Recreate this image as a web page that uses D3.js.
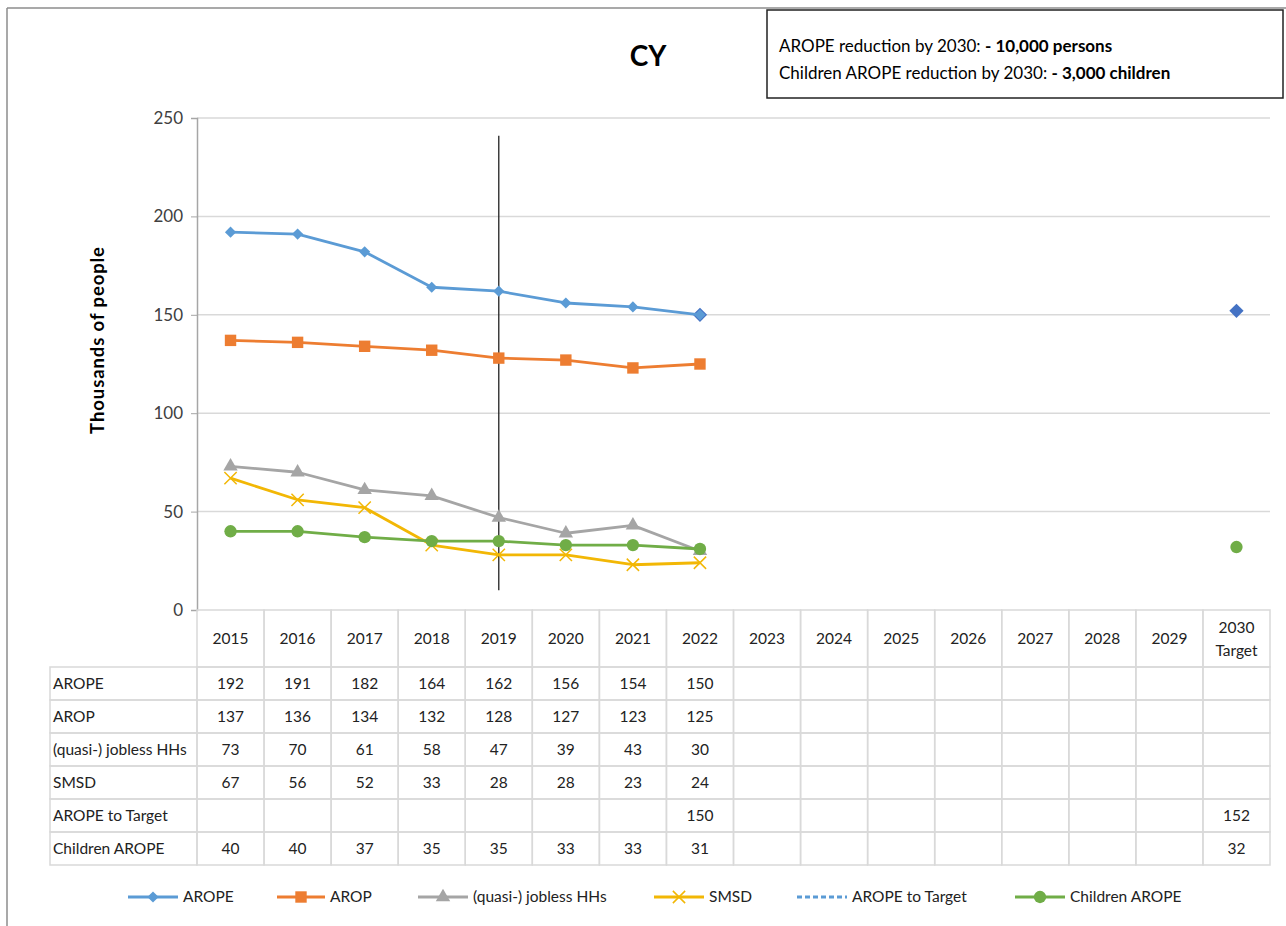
<!DOCTYPE html>
<html>
<head>
<meta charset="utf-8">
<script src="https://cdn.jsdelivr.net/npm/d3@7"></script>
<style>
  body { margin: 0; background: #fff; }
  svg { font-family: Lato, "Open Sans", sans-serif; }
</style>
</head>
<body>
<div id="chart"></div>
<script>
// categories and series
var years = ["2015","2016","2017","2018","2019","2020","2021","2022","2023","2024","2025","2026","2027","2028","2029","2030 Target"];
var arope    = [192,191,182,164,162,156,154,150,null,null,null,null,null,null,null,null];
var arop     = [137,136,134,132,128,127,123,125,null,null,null,null,null,null,null,null];
var jobless  = [73,70,61,58,47,39,43,30,null,null,null,null,null,null,null,null];
var smsd     = [67,56,52,33,28,28,23,24,null,null,null,null,null,null,null,null];
var toTarget = [null,null,null,null,null,null,null,150,null,null,null,null,null,null,null,152];
var children = [40,40,37,35,35,33,33,31,null,null,null,null,null,null,null,32];
var yTicks = [0,50,100,150,200,250];

var width = 1286, height = 926;

var svg = d3.select("#chart").append("svg")
  .attr("width", width)
  .attr("height", height);

// outer frame
svg.append("line").attr("x1", 7).attr("x2", 7).attr("y1", 8).attr("y2", height).attr("stroke", "#8c8c8c").attr("stroke-width", 1.5);
svg.append("line").attr("x1", 7).attr("x2", width).attr("y1", 8).attr("y2", 8).attr("stroke", "#8c8c8c").attr("stroke-width", 1.5);

var x = d3.scaleBand().domain(years).range([197, 1270]);
var y = d3.scaleLinear().domain([0, 250]).range([610, 118]);
var cx = function(i) { return x(years[i]) + x.bandwidth() / 2; };

// gridlines
svg.append("g").selectAll("line").data(yTicks.filter(function(d){ return d > 0; })).enter()
  .append("line")
  .attr("x1", 197).attr("x2", 1270)
  .attr("y1", function(d){ return y(d); }).attr("y2", function(d){ return y(d); })
  .attr("stroke", "#d9d9d9").attr("stroke-width", 1.5);

// y axis
var yAxis = svg.append("g").attr("transform", "translate(197,0)")
  .call(d3.axisLeft(y).tickValues(yTicks).tickSize(6).tickPadding(8));
yAxis.select(".domain").attr("stroke", "#a6a6a6").attr("stroke-width", 1.5);
yAxis.selectAll(".tick line").attr("stroke", "#a6a6a6");
yAxis.selectAll("text").attr("font-size", 17).attr("fill", "#404040").attr("font-family", "Lato, sans-serif");

svg.append("text")
  .attr("transform", "translate(104,340) rotate(-90)")
  .attr("text-anchor", "middle")
  .attr("font-size", 18.5).attr("font-weight", "bold").attr("letter-spacing", 0.9)
  .text("Thousands  of people");

// title
svg.append("text").attr("x", 648).attr("y", 66).attr("text-anchor", "middle")
  .attr("font-size", 28).attr("font-weight", "bold").text("CY");

// note box
svg.append("rect").attr("x", 767).attr("y", 10).attr("width", 516).attr("height", 88)
  .attr("fill", "#fff").attr("stroke", "#222").attr("stroke-width", 1.5);
var t1 = svg.append("text").attr("x", 779).attr("y", 52).attr("font-size", 17);
t1.append("tspan").text("AROPE reduction by 2030: ");
t1.append("tspan").attr("font-weight", "bold").text("- 10,000 persons");
var t2 = svg.append("text").attr("x", 779).attr("y", 79).attr("font-size", 17);
t2.append("tspan").text("Children AROPE reduction by 2030: ");
t2.append("tspan").attr("font-weight", "bold").text("- 3,000 children");

// 2019 marker line
svg.append("line")
  .attr("x1", cx(4)).attr("x2", cx(4))
  .attr("y1", y(241)).attr("y2", y(10))
  .attr("stroke", "#222").attr("stroke-width", 1.3);

var series = [
  { name: "AROPE", values: arope, color: "#5b9bd5", symbol: d3.symbolDiamond2, size: 80 },
  { name: "AROP", values: arop, color: "#ed7d31", symbol: d3.symbolSquare, size: 130 },
  { name: "(quasi-) jobless HHs", values: jobless, color: "#a5a5a5", symbol: d3.symbolTriangle, size: 90 },
  { name: "SMSD", values: smsd, color: "#f2b705", symbol: d3.symbolX, size: 100, open: true },
  { name: "AROPE to Target", values: toTarget, color: "#4472c4", symbol: d3.symbolDiamond2, size: 130, dash: "5,3", nolegendMarker: true },
  { name: "Children AROPE", values: children, color: "#70ad47", symbol: d3.symbolCircle, size: 120 }
];

function drawSymbol(g, s, px, py) {
  var p = g.append("path")
    .attr("d", d3.symbol().type(s.symbol).size(s.size)())
    .attr("transform", "translate(" + px + "," + py + ")");
  if (s.open) p.attr("fill", "none").attr("stroke", s.color).attr("stroke-width", 1.5);
  else p.attr("fill", s.color);
}

// draw target first so AROPE sits on top of it at 2022
var drawOrder = [4, 0, 1, 2, 3, 5];
drawOrder.forEach(function(k) {
  var s = series[k];
  var g = svg.append("g");
  // connect only consecutive points, like the source
  s.values.forEach(function(v, i){
    if (v != null && s.values[i+1] != null) {
      g.append("line")
        .attr("x1", cx(i)).attr("y1", y(v))
        .attr("x2", cx(i+1)).attr("y2", y(s.values[i+1]))
        .attr("stroke", s.color).attr("stroke-width", 2.8)
        .attr("stroke-dasharray", s.dash || null);
    }
  });
  s.values.forEach(function(v, i){
    if (v != null) drawSymbol(g, s, cx(i), y(v));
  });
});

// data table
var tableTop = 610, headH = 57, rowH = 33, tableLeft = 50;
var fs = 15.5;
var tbl = svg.append("g");
var gridC = "#d9d9d9";
// header
years.forEach(function(yr, i) {
  var x0 = x(yr);
  tbl.append("rect").attr("x", x0).attr("y", tableTop).attr("width", x.bandwidth()).attr("height", headH)
    .attr("fill", "none").attr("stroke", gridC).attr("stroke-width", 1.5);
  var parts = yr.split(" ");
  var tt = tbl.append("text").attr("text-anchor", "middle").attr("font-size", fs).attr("fill", "#222");
  if (parts.length === 1) {
    tt.append("tspan").attr("x", cx(i)).attr("y", tableTop + 34).text(yr);
  } else {
    tt.append("tspan").attr("x", cx(i)).attr("y", tableTop + 23).text(parts[0]);
    tt.append("tspan").attr("x", cx(i)).attr("y", tableTop + 46).text(parts[1]);
  }
});
series.forEach(function(s, r) {
  var ry = tableTop + headH + r * rowH;
  tbl.append("rect").attr("x", tableLeft).attr("y", ry).attr("width", 197 - tableLeft).attr("height", rowH)
    .attr("fill", "none").attr("stroke", gridC).attr("stroke-width", 1.5);
  tbl.append("text").attr("x", tableLeft + 3).attr("y", ry + 22).attr("font-size", fs).attr("fill", "#222").text(s.name);
  years.forEach(function(yr, i) {
    tbl.append("rect").attr("x", x(yr)).attr("y", ry).attr("width", x.bandwidth()).attr("height", rowH)
      .attr("fill", "none").attr("stroke", gridC).attr("stroke-width", 1.5);
    if (s.values[i] != null) {
      tbl.append("text").attr("x", cx(i)).attr("y", ry + 22).attr("text-anchor", "middle")
        .attr("font-size", fs).attr("fill", "#222").text(s.values[i]);
    }
  });
});

// legend
var legendX = [128, 277, 418, 654, 797, 1015];
var legendW = [50, 48, 50, 50, 50, 50];
var ly = 897;
series.forEach(function(s, i) {
  var g = svg.append("g");
  g.append("line").attr("x1", legendX[i]).attr("x2", legendX[i] + legendW[i])
    .attr("y1", ly).attr("y2", ly)
    .attr("stroke", s.color === "#4472c4" ? "#5b9bd5" : s.color).attr("stroke-width", 2.8)
    .attr("stroke-dasharray", s.dash || null);
  if (!s.nolegendMarker) drawSymbol(g, s, legendX[i] + legendW[i] / 2, ly);
  g.append("text").attr("x", legendX[i] + legendW[i] + 5).attr("y", ly + 5)
    .attr("font-size", 15.5).attr("fill", "#222").text(s.name);
});
</script>
</body>
</html>
